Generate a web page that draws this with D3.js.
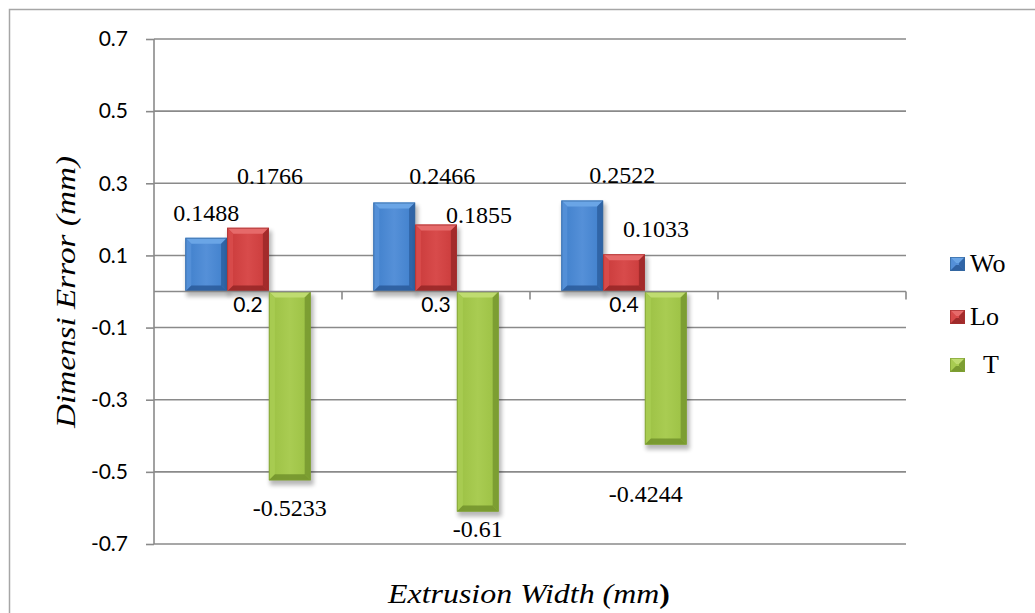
<!DOCTYPE html>
<html>
<head>
<meta charset="utf-8">
<script src="https://cdn.jsdelivr.net/npm/d3@7"></script>
<style>
  html, body { margin: 0; padding: 0; background: #fff; }
  svg { display: block; }
</style>
</head>
<body>
<svg id="chart" width="1035" height="613"></svg>
<script>
// ---- data ----
const categories = ["0.2", "0.3", "0.4", ""];
const seriesNames = ["Wo", "Lo", "T"];
const woValues = [0.1488, 0.2466, 0.2522];
const loValues = [0.1766, 0.1855, 0.1033];
const tValues = [-0.5233, -0.61, -0.4244];
const yTicks = [0.7, 0.5, 0.3, 0.1, -0.1, -0.3, -0.5, -0.7];

// label nudges (px) relative to the bar end, per series per category
const labelNudge = {
  Wo: [[0, -17], [48, -19], [40, -18]],
  Lo: [[22, -44], [43, -2], [32, -17]],
  T:  [[0, 36], [0, 25], [-20, 57]]
};

const valuesBySeries = { Wo: woValues, Lo: loValues, T: tValues };

const palette = {
  Wo: { face: "#3f7fcb", light: "#6aa5e6", mid: "#5590d8", dark: "#2a5b9a", edge: "#34689f" },
  Lo: { face: "#c93a3a", light: "#e66a6a", mid: "#d84b4b", dark: "#952626", edge: "#a52f2f" },
  T:  { face: "#9bc043", light: "#bfdc70", mid: "#a9cc52", dark: "#72922c", edge: "#7f9f33" }
};

const serif = "'Liberation Serif', 'Times New Roman', Times, serif";
const sans = "Lato, 'Open Sans', sans-serif";

const svg = d3.select("#chart");
const W = 1035, H = 613;

// outer chart frame
svg.append("rect")
  .attr("x", 9.5).attr("y", 9.5)
  .attr("width", W + 20).attr("height", H + 20)
  .attr("fill", "none").attr("stroke", "#a6a6a6").attr("stroke-width", 1.5);

const plot = { left: 154, right: 906, top: 39, bottom: 544 };

const x0 = d3.scaleBand().domain(categories).range([plot.left, plot.right]).padding(0);
const x1 = d3.scaleBand().domain(seriesNames).range([0, x0.bandwidth()])
  .paddingInner(0).paddingOuter(0.75);
const y = d3.scaleLinear().domain([-0.7, 0.7]).range([plot.bottom, plot.top]);

const defs = svg.append("defs");
const shadow = defs.append("filter").attr("id", "barShadow")
  .attr("x", "-30%").attr("y", "-30%").attr("width", "160%").attr("height", "160%");
shadow.append("feGaussianBlur").attr("stdDeviation", 2);

seriesNames.forEach(s => {
  const c = palette[s];
  const g = defs.append("linearGradient").attr("id", "face-" + s)
    .attr("x1", "0").attr("x2", "1").attr("y1", "0").attr("y2", "0");
  g.append("stop").attr("offset", "0%").attr("stop-color", c.face);
  g.append("stop").attr("offset", "50%").attr("stop-color", c.mid);
  g.append("stop").attr("offset", "100%").attr("stop-color", c.face);
});

const gridColor = "#8a8a8a";
const fmt = d => d3.format(".1f")(d).replace("\u2212", "-");

// value axis ticks and labels
const yAxis = d3.axisLeft(y).tickValues(yTicks).tickSize(8).tickFormat(fmt);
const yg = svg.append("g").attr("transform", `translate(${plot.left},0)`).call(yAxis);
yg.select(".domain").remove();
yg.selectAll(".tick line").attr("stroke", gridColor).attr("stroke-width", 1.6);
yg.selectAll(".tick text")
  .attr("x", -26)
  .attr("font-family", sans)
  .attr("font-size", 21).attr("fill", "#000");

// horizontal gridlines
svg.append("g").selectAll("line").data(yTicks).join("line")
  .attr("x1", plot.left).attr("x2", plot.right)
  .attr("y1", d => y(d)).attr("y2", d => y(d))
  .attr("stroke", gridColor).attr("stroke-width", 1.6);

svg.append("line")
  .attr("x1", plot.left).attr("x2", plot.left)
  .attr("y1", plot.top).attr("y2", plot.bottom)
  .attr("stroke", gridColor).attr("stroke-width", 1.6);

// bevelled bar with a soft drop shadow
function bevelBar(g, s, bx, by, bw, bh, withShadow) {
  const c = palette[s];
  const b = Math.min(6, bw / 2, bh / 2);
  if (withShadow) {
    g.append("rect").attr("x", bx + 1).attr("y", by + 3).attr("width", bw + 2).attr("height", bh + 2)
      .attr("fill", "#000").attr("opacity", 0.28).attr("filter", "url(#barShadow)");
  }
  g.append("rect").attr("x", bx).attr("y", by).attr("width", bw).attr("height", bh)
    .attr("fill", `url(#face-${s})`);
  const L = bx, R = bx + bw, T = by, B = by + bh;
  const poly = (pts, fill, op) => g.append("polygon")
    .attr("points", pts.map(p => p.join(",")).join(" "))
    .attr("fill", fill).attr("opacity", op);
  poly([[L, T], [R, T], [R - b, T + b], [L + b, T + b]], c.light, 1);
  poly([[L, T], [L + b, T + b], [L + b, B - b], [L, B]], c.mid, 0.9);
  poly([[R, T], [R, B], [R - b, B - b], [R - b, T + b]], c.dark, 0.75);
  poly([[L, B], [L + b, B - b], [R - b, B - b], [R, B]], c.dark, 0.85);
  g.append("rect").attr("x", bx + 0.5).attr("y", by + 0.5).attr("width", bw - 1).attr("height", bh - 1)
    .attr("fill", "none").attr("stroke", c.edge).attr("stroke-width", 1).attr("opacity", 0.7);
}

const barLayer = svg.append("g");
seriesNames.forEach(s => {
  valuesBySeries[s].forEach((v, i) => {
    const bx = x0(categories[i]) + x1(s);
    const bw = x1.bandwidth();
    const by = Math.min(y(v), y(0));
    const bh = Math.abs(y(v) - y(0));
    bevelBar(barLayer.append("g"), s, bx, by, bw, bh, true);
  });
});

// category axis along zero
const xg = svg.append("g").attr("transform", `translate(0,${y(0)})`);
xg.append("line").attr("x1", plot.left).attr("x2", plot.right)
  .attr("stroke", gridColor).attr("stroke-width", 1.6);
const tickPos = categories.map(c => x0(c) + x0.bandwidth());
xg.selectAll("line.tk").data(tickPos).join("line").attr("class", "tk")
  .attr("x1", d => d).attr("x2", d => d).attr("y1", 0).attr("y2", 8)
  .attr("stroke", gridColor).attr("stroke-width", 1.6);
xg.selectAll("text").data(categories).join("text")
  .attr("x", d => x0(d) + x0.bandwidth() / 2)
  .attr("y", 20)
  .attr("text-anchor", "middle")
  .attr("font-family", sans)
  .attr("font-size", 21).attr("fill", "#000")
  .text(d => d);

// data labels
const labelLayer = svg.append("g");
seriesNames.forEach(s => {
  valuesBySeries[s].forEach((v, i) => {
    const cx = x0(categories[i]) + x1(s) + x1.bandwidth() / 2;
    const [dx, dy] = labelNudge[s][i];
    labelLayer.append("text")
      .attr("x", cx + dx).attr("y", y(v) + dy)
      .attr("text-anchor", "middle")
      .attr("font-family", serif)
      .attr("font-size", 24).attr("fill", "#000")
      .text(String(v));
  });
});

// legend
const legend = svg.append("g");
const legendBase = [272, 325, 373];
seriesNames.forEach((s, i) => {
  const g = legend.append("g");
  bevelBar(g, s, 950, legendBase[i] - 15, 15, 14, false);
  g.append("text")
    .attr("x", s === "T" ? 983 : 970).attr("y", legendBase[i])
    .attr("font-family", serif)
    .attr("font-size", 26).attr("fill", "#000")
    .text(s);
});

// axis titles
const xt = svg.append("text")
  .attr("x", 529).attr("y", 603).attr("text-anchor", "middle")
  .attr("font-family", serif)
  .attr("font-size", 27).attr("fill", "#000")
  .attr("textLength", 282).attr("lengthAdjust", "spacingAndGlyphs");
xt.append("tspan").attr("font-style", "italic").text("Extrusion Width (mm");
xt.append("tspan").attr("font-weight", "bold").text(")");

svg.append("text")
  .attr("transform", "translate(75,292) rotate(-90)")
  .attr("text-anchor", "middle")
  .attr("font-family", serif)
  .attr("font-style", "italic")
  .attr("font-size", 27).attr("fill", "#000")
  .attr("textLength", 272).attr("lengthAdjust", "spacingAndGlyphs")
  .text("Dimensi Error (mm)");
</script>
</body>
</html>
